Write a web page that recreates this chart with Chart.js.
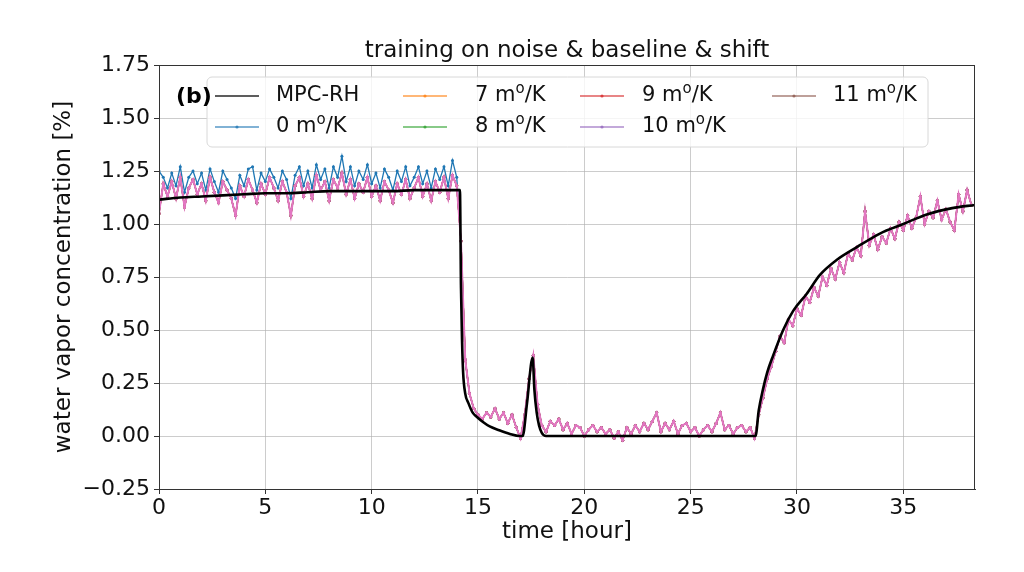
<!DOCTYPE html>
<html>
<head>
<meta charset="utf-8">
<script src="https://cdn.jsdelivr.net/npm/chart.js@4.4.0/dist/chart.umd.min.js"></script>
<style>
    html, body { margin: 0; padding: 0; background: #fff; }
    #wrap { width: 1024px; height: 572px; }
</style>
</head>
<body>
<div id="wrap"><canvas id="chart" width="1024" height="572"></canvas></div>
<script>
// sample times of the noisy model outputs [hour]
const sampleTimes = [
    0, 0.2, 0.4, 0.6, 0.8, 1, 1.2, 1.4, 1.6, 1.8,
    2, 2.2, 2.4, 2.6, 2.8, 3, 3.2, 3.4, 3.6, 3.8,
    4, 4.2, 4.4, 4.6, 4.8, 5, 5.2, 5.4, 5.6, 5.8,
    6, 6.2, 6.4, 6.6, 6.8, 7, 7.2, 7.4, 7.6, 7.8,
    8, 8.2, 8.4, 8.6, 8.8, 9, 9.2, 9.4, 9.6, 9.8,
    10, 10.2, 10.4, 10.6, 10.8, 11, 11.2, 11.4, 11.6, 11.8,
    12, 12.2, 12.4, 12.6, 12.8, 13, 13.2, 13.4, 13.6, 13.8,
    14, 14.2, 14.4, 14.6, 14.8, 15, 15.2, 15.4, 15.6, 15.8,
    16, 16.2, 16.4, 16.6, 16.8, 17, 17.2, 17.4, 17.6, 17.8,
    18, 18.2, 18.4, 18.6, 18.8, 19, 19.2, 19.4, 19.6, 19.8,
    20, 20.2, 20.4, 20.6, 20.8, 21, 21.2, 21.4, 21.6, 21.8,
    22, 22.2, 22.4, 22.6, 22.8, 23, 23.2, 23.4, 23.6, 23.8,
    24, 24.2, 24.4, 24.6, 24.8, 25, 25.2, 25.4, 25.6, 25.8,
    26, 26.2, 26.4, 26.6, 26.8, 27, 27.2, 27.4, 27.6, 27.8,
    28, 28.2, 28.4, 28.6, 28.8, 29, 29.2, 29.4, 29.6, 29.8,
    30, 30.2, 30.4, 30.6, 30.8, 31, 31.2, 31.4, 31.6, 31.8,
    32, 32.2, 32.4, 32.6, 32.8, 33, 33.2, 33.4, 33.6, 33.8,
    34, 34.2, 34.4, 34.6, 34.8, 35, 35.2, 35.4, 35.6, 35.8,
    36, 36.2, 36.4, 36.6, 36.8, 37, 37.2, 37.4, 37.6, 37.8,
    38, 38.2
];

// model trained on noise & baseline & shift (pink, drawn on top of 7..11 m°/K)
const shiftedNoise = [
    1.05, 1.19, 1.13, 1.20, 1.12, 1.22, 1.08, 1.17, 1.21, 1.14,
    1.19, 1.11, 1.22, 1.15, 1.10, 1.20, 1.16, 1.12, 1.04, 1.18,
    1.13, 1.21, 1.16, 1.10, 1.19, 1.14, 1.22, 1.17, 1.11, 1.20,
    1.15, 1.04, 1.18, 1.22, 1.13, 1.19, 1.12, 1.23, 1.16, 1.20,
    1.11, 1.21, 1.17, 1.24, 1.14, 1.21, 1.12, 1.19, 1.15, 1.22,
    1.13, 1.18, 1.11, 1.20, 1.16, 1.10, 1.19, 1.14, 1.21, 1.12,
    1.17, 1.22, 1.13, 1.19, 1.11, 1.20, 1.15, 1.22, 1.12, 1.23,
    1.18, 0.92, 0.36, 0.20, 0.13, 0.10, 0.08, 0.11, 0.09, 0.13,
    0.08, 0.11, 0.06, 0.10, 0.04, -0.01, 0.10, 0.27, 0.38, 0.15,
    0.05, 0.02, 0.07, 0.05, 0.08, 0.03, 0.06, 0.01, 0.05, 0.04,
    0.00, 0.03, 0.05, 0.02, 0.04, 0.01, 0.03, -0.01, 0.02, -0.02,
    0.04, 0.01, 0.05, 0.02, 0.06, 0.03, 0.07, 0.11, 0.02, 0.06,
    0.03, 0.07, 0.01, 0.05, 0.06, 0.02, 0.04, 0.00, 0.03, 0.05,
    0.02, 0.06, 0.11, 0.03, 0.05, 0.01, 0.04, 0.05, 0.02, 0.04,
    -0.01, 0.10, 0.18, 0.27, 0.33, 0.40, 0.47, 0.44, 0.55, 0.52,
    0.60, 0.57, 0.66, 0.63, 0.70, 0.66, 0.75, 0.71, 0.79, 0.74,
    0.82, 0.77, 0.86, 0.83, 0.89, 0.85, 1.06, 0.90, 0.95, 0.88,
    0.94, 0.91, 0.98, 0.93, 1.01, 0.97, 1.04, 0.98, 1.03, 1.13,
    1.00, 1.06, 1.03, 1.11, 1.02, 1.07, 1.01, 0.97, 1.14, 1.06,
    1.16, 1.09
];

// 0 m°/K sits above the others before the drop, same afterwards
const zeroShiftPlateau = [
    1.25, 1.22, 1.17, 1.24, 1.18, 1.27, 1.15, 1.22, 1.25, 1.19,
    1.24, 1.16, 1.26, 1.20, 1.15, 1.25, 1.21, 1.17, 1.12, 1.23,
    1.18, 1.26, 1.27, 1.16, 1.24, 1.20, 1.26, 1.22, 1.17, 1.25,
    1.21, 1.12, 1.23, 1.27, 1.18, 1.25, 1.17, 1.28, 1.21, 1.26,
    1.17, 1.27, 1.22, 1.32, 1.20, 1.27, 1.18, 1.25, 1.21, 1.28,
    1.19, 1.24, 1.17, 1.26, 1.22, 1.16, 1.25, 1.20, 1.27, 1.18,
    1.22, 1.27, 1.19, 1.25, 1.17, 1.26, 1.21, 1.27, 1.18, 1.30,
    1.22
];

// MPC-RH reference trajectory
const mpcTimes = [
    0, 1, 2, 3, 4, 5, 6, 7, 8, 9, 10, 11, 12, 13,
    14.1, 14.15, 14.2, 14.25, 14.3, 14.4, 14.55, 14.75, 14.95,
    15.25, 15.55, 16.0, 16.5, 16.95,
    17.1, 17.3, 17.57, 17.65, 17.76, 17.87, 18.0, 18.2,
    28.05, 28.2, 28.4, 28.6, 28.88,
    29.35, 29.82, 30.45, 31.08, 31.86, 32.8, 33.9, 35.0, 36.1, 37.3, 38.37
];
const mpcValues = [
    1.115, 1.125, 1.13, 1.135, 1.14, 1.145, 1.145, 1.15, 1.155, 1.155, 1.155, 1.155, 1.16, 1.16,
    1.16, 1.16, 0.7, 0.45, 0.3, 0.2, 0.155, 0.11, 0.09,
    0.065, 0.045, 0.027, 0.01, 0,
    0, 0.15, 0.37, 0.22, 0.11, 0.05, 0.015, 0,
    0, 0.12, 0.22, 0.30, 0.38,
    0.50, 0.59, 0.67, 0.76, 0.83, 0.89, 0.955, 1.0, 1.045, 1.075, 1.09
];

const shiftLabels = ['0', '7', '8', '9', '10', '11'];
const shiftColors = ['#1f77b4', '#ff7f0e', '#2ca02c', '#d62728', '#9467bd', '#8c564b'];
const extraColor = '#e377c2';

const yTicks = [-0.25, 0, 0.25, 0.5, 0.75, 1, 1.25, 1.5, 1.75];
const xTicks = [0, 5, 10, 15, 20, 25, 30, 35];

const FONT = '"DejaVu Sans", sans-serif';

function toPoints(times, values) {
    return times.map((t, i) => ({x: t, y: values[i]}));
}

const zeroShiftValues = zeroShiftPlateau.concat(shiftedNoise.slice(zeroShiftPlateau.length));

function noisyDataset(color, values, width) {
    return {
        data: toPoints(sampleTimes, values),
        borderColor: color,
        backgroundColor: color,
        borderWidth: width,
        pointRadius: 1.5,
        pointBorderWidth: 0,
        pointBackgroundColor: color,
        tension: 0
    };
}

// index 0 is drawn on top in Chart.js, so the list runs top -> bottom
const datasets = [
    {
        data: toPoints(mpcTimes, mpcValues),
        borderColor: '#000',
        borderWidth: 2.6,
        pointRadius: 0,
        cubicInterpolationMode: 'monotone'
    },
    noisyDataset(extraColor, shiftedNoise, 2),
    noisyDataset(shiftColors[5], shiftedNoise, 1.3),
    noisyDataset(shiftColors[4], shiftedNoise, 1.3),
    noisyDataset(shiftColors[3], shiftedNoise, 1.3),
    noisyDataset(shiftColors[2], shiftedNoise, 1.3),
    noisyDataset(shiftColors[1], shiftedNoise, 1.3),
    noisyDataset(shiftColors[0], zeroShiftValues, 1.3)
];

function fmtY(v) {
    const s = Math.abs(v).toFixed(2);
    return v < -1e-9 ? '\u2212' + s : s;
}

function drawShiftText(ctx, num, x, y) {
    ctx.font = `21px ${FONT}`;
    ctx.textAlign = 'left';
    ctx.textBaseline = 'middle';
    const head = num + ' m';
    ctx.fillText(head, x, y);
    let cx = x + ctx.measureText(head).width;
    ctx.font = `15px ${FONT}`;
    ctx.fillText('o', cx, y - 7);
    cx += ctx.measureText('o').width;
    ctx.font = `21px ${FONT}`;
    ctx.fillText('/K', cx, y);
}

const decorPlugin = {
    id: 'decorPlugin',
    afterDatasetsDraw(chart) {
        const ctx = chart.ctx;
        const a = chart.chartArea;
        ctx.save();
        ctx.strokeStyle = '#333';
        ctx.lineWidth = 1;
        ctx.strokeRect(a.left + 0.5, a.top + 0.5, a.right - a.left - 1, a.bottom - a.top);
        ctx.restore();
    },
    afterDraw(chart) {
        const ctx = chart.ctx;
        const a = chart.chartArea;
        ctx.save();
        ctx.fillStyle = '#111';

        // title + axis titles
        ctx.font = `23px ${FONT}`;
        ctx.textAlign = 'center';
        ctx.textBaseline = 'middle';
        ctx.fillText('training on noise & baseline & shift', (a.left + a.right) / 2, 51);
        ctx.fillText('time [hour]', (a.left + a.right) / 2, 532);
        ctx.save();
        ctx.translate(64, (a.top + a.bottom) / 2);
        ctx.rotate(-Math.PI / 2);
        ctx.fillText('water vapor concentration [%]', 0, 0);
        ctx.restore();

        // legend box
        const bx = 207, by = 77, bw = 721, bh = 70, r = 5;
        ctx.beginPath();
        ctx.moveTo(bx + r, by);
        ctx.arcTo(bx + bw, by, bx + bw, by + bh, r);
        ctx.arcTo(bx + bw, by + bh, bx, by + bh, r);
        ctx.arcTo(bx, by + bh, bx, by, r);
        ctx.arcTo(bx, by, bx + bw, by, r);
        ctx.closePath();
        ctx.fillStyle = 'rgba(255,255,255,0.8)';
        ctx.fill();
        ctx.strokeStyle = '#d8d8d8';
        ctx.lineWidth = 1;
        ctx.stroke();

        const entries = [
            {color: '#000', text: 'MPC-RH', col: 0, row: 0, marker: false},
            {color: shiftColors[0], text: shiftLabels[0], col: 0, row: 1, marker: true},
            {color: shiftColors[1], text: shiftLabels[1], col: 1, row: 0, marker: true},
            {color: shiftColors[2], text: shiftLabels[2], col: 1, row: 1, marker: true},
            {color: shiftColors[3], text: shiftLabels[3], col: 2, row: 0, marker: true},
            {color: shiftColors[4], text: shiftLabels[4], col: 2, row: 1, marker: true},
            {color: shiftColors[5], text: shiftLabels[5], col: 3, row: 0, marker: true}
        ];
        const lineX = [215, 403, 580, 772];
        const textX = [276, 475, 642, 833];
        const rowY = [96, 127];

        entries.forEach(e => {
            const x0 = lineX[e.col];
            const y = rowY[e.row];
            ctx.globalAlpha = e.marker ? 0.75 : 0.85;
            ctx.strokeStyle = e.color;
            ctx.lineWidth = e.marker ? 1.4 : 1.3;
            ctx.beginPath();
            ctx.moveTo(x0, y);
            ctx.lineTo(x0 + 44, y);
            ctx.stroke();
            if (e.marker) {
                ctx.fillStyle = e.color;
                ctx.beginPath();
                ctx.arc(x0 + 22, y, 1.6, 0, Math.PI * 2);
                ctx.fill();
            }
            ctx.globalAlpha = 1;
            ctx.fillStyle = '#111';
            if (e.marker) {
                drawShiftText(ctx, e.text, textX[e.col], y);
            } else {
                ctx.font = `21px ${FONT}`;
                ctx.textAlign = 'left';
                ctx.textBaseline = 'middle';
                ctx.fillText(e.text, textX[e.col], y);
            }
        });

        ctx.font = `bold 22px ${FONT}`;
        ctx.textAlign = 'left';
        ctx.textBaseline = 'middle';
        ctx.fillStyle = '#000';
        ctx.fillText('(b)', 176, 97);
        ctx.restore();
    }
};

new Chart(document.getElementById('chart'), {
    type: 'line',
    data: {datasets: datasets},
    options: {
        responsive: false,
        animation: false,
        devicePixelRatio: 1,
        layout: {padding: {left: 0, top: 65, right: 49, bottom: 0}},
        plugins: {
            legend: {display: false},
            title: {display: false},
            tooltip: {enabled: false}
        },
        scales: {
            x: {
                type: 'linear',
                min: 0,
                max: 38.37,
                afterFit: scale => { scale.height = 83; },
                afterBuildTicks: scale => { scale.ticks = xTicks.map(v => ({value: v})); },
                ticks: {
                    font: {family: FONT, size: 22},
                    color: '#111',
                    padding: 1,
                    maxRotation: 0,
                    callback: v => String(v)
                },
                grid: {color: 'rgba(176,176,176,0.65)', lineWidth: 1, tickColor: '#333', tickLength: 5},
                border: {color: '#333', width: 1}
            },
            y: {
                type: 'linear',
                min: -0.25,
                max: 1.75,
                afterFit: scale => { scale.width = 159; },
                afterBuildTicks: scale => { scale.ticks = yTicks.map(v => ({value: v})); },
                ticks: {
                    font: {family: FONT, size: 22},
                    color: '#111',
                    padding: 4,
                    callback: v => fmtY(v)
                },
                grid: {color: 'rgba(176,176,176,0.65)', lineWidth: 1, tickColor: '#333', tickLength: 5},
                border: {color: '#333', width: 1}
            }
        }
    },
    plugins: [decorPlugin]
});
</script>
</body>
</html>
